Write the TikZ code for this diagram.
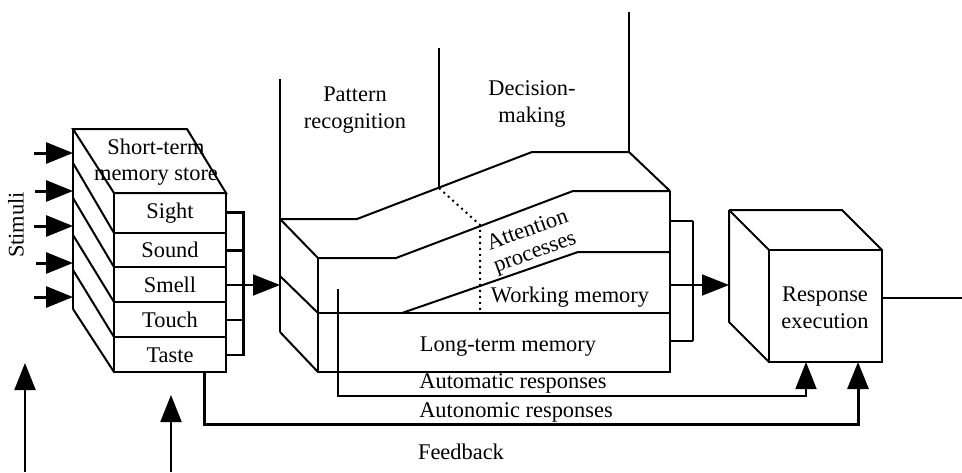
\documentclass[tikz,border=0pt]{standalone}
\usepackage{fontspec}
\setmainfont{Liberation Serif}
\usepackage{tikz}
\usetikzlibrary{arrows.meta}

\tikzset{
    outline/.style={line width=1pt},
    thinline/.style={line width=0.8pt},
    heavyline/.style={line width=1.5pt},
    bigarrow/.style={-{Triangle[length=13.5pt,width=10.5pt]}},
    lbl/.style={font=\fontsize{11.2}{13.3}\selectfont, align=center, inner sep=0pt}
}

\begin{document}
\begin{tikzpicture}[x=0.5pt,y=-0.5pt]
    \useasboundingbox (0,0) rectangle (962,472);

    % Stimuli
    \node[lbl, rotate=90] (stimuli) at (16,225) {Stimuli};
    \foreach \y/\t in {153/34,191/35,226/34,263/36,297/34} {
        \coordinate (stin) at (\t,\y);
        \coordinate (stend) at (73,\y);
        \draw[heavyline, bigarrow] (stin) -- (stend);
    }

    % Short-term memory store
    \draw[outline] (73,129) -- (187,129) -- (226,193) -- (114,193) -- cycle;
    \draw[outline] (114,193) rectangle (226,372);
    \foreach \y in {233,267,302,337}
        \draw[outline] (114,\y) -- (226,\y);
    \draw[outline] (73,129) -- (73,309);
    \foreach \b/\f in {163/233,198/267,235/302,270/337,309/372}
        \draw[outline] (73,\b) -- (114,\f);
    \node[lbl] (stm) at (156,162) {Short-term\\memory store};
    \node[lbl] (sight) at (170,213) {Sight};
    \node[lbl] (sound) at (170,250) {Sound};
    \node[lbl] (smell) at (170,285) {Smell};
    \node[lbl] (touch) at (170,320) {Touch};
    \node[lbl] (taste) at (170,355) {Taste};

    % Senses joined
    \foreach \y in {285,320,355}
        \draw[thinline] (226,\y) -- (243,\y);
    \draw[heavyline] (226,212) -- (243,212);
    \draw[heavyline] (226,250) -- (243,250);
    \draw[heavyline] (243,211) -- (243,356);
    \coordinate (stmout) at (226,285);
    \coordinate (cogin) at (280,285);
    \draw[thinline, bigarrow] (stmout) -- (cogin);

    % Pattern recognition and decision-making
    \draw[outline] (280,79) -- (280,332);
    \draw[outline] (439,48) -- (439,188);
    \draw[outline] (629,12) -- (629,152);
    \draw[outline] (280,219) -- (357,219) -- (532,152) -- (629,152) -- (670,191);
    \draw[outline, dotted] (439,188) -- (480,225) -- (480,313);
    \node[lbl] (pattern) at (355,110) {Pattern\\recognition};
    \node[lbl] (decision) at (532,104) {Decision-\\making};

    % Attention, working memory, long-term memory
    \draw[outline] (280,219) -- (318,258) -- (396,258) -- (573,191) -- (670,191);
    \draw[outline] (318,258) -- (318,372) -- (670,372) -- (670,191);
    \draw[outline] (318,313) -- (670,313);
    \draw[outline] (402,313) -- (578,252) -- (670,252);
    \draw[outline] (280,276) -- (318,313);
    \draw[outline] (280,332) -- (318,372);
    \node[lbl, rotate=20] (attention) at (527,229) {Attention};
    \node[lbl, rotate=20] (processes) at (536,255) {processes};
    \node[lbl] (working) at (570,297) {Working memory};
    \node[lbl] (longterm) at (508,347) {Long-term memory};

    % Joined outputs
    \foreach \y in {221,341}
        \draw[thinline] (670,\y) -- (693,\y);
    \draw[thinline] (693,221) -- (693,341);
    \coordinate (cogout) at (670,285);
    \coordinate (respin) at (729,285);
    \draw[thinline, bigarrow] (cogout) -- (respin);

    % Response execution
    \draw[outline] (729,210) -- (842,210) -- (882,250);
    \draw[outline] (769,250) rectangle (882,362);
    \draw[outline] (729,210) -- (769,250);
    \draw[outline] (729,210) -- (729,322) -- (769,362);
    \node[lbl] (response) at (825,308) {Response\\execution};
    \coordinate (respout) at (882,298);
    \coordinate (exit) at (962,298);
    \draw[outline] (respout) -- (exit);

    % Automatic and autonomic responses
    \coordinate (autostart) at (338,289);
    \coordinate (autoend) at (806,362);
    \draw[thinline, bigarrow] (autostart) |- (338,396) -| (autoend);
    \node[lbl] (automatic) at (513,383) {Automatic responses};
    \coordinate (tastebot) at (204,372);
    \coordinate (autonend) at (858,362);
    \draw[heavyline, bigarrow] (tastebot) |- (858,424) -- (autonend);
    \node[lbl] (autonomic) at (516,412) {Autonomic responses};

    % Feedback
    \coordinate (fbone) at (25,472);
    \coordinate (fbonetip) at (25,363);
    \coordinate (fbtwo) at (171,472);
    \coordinate (fbtwotip) at (171,395);
    \draw[outline, bigarrow] (fbone) -- (fbonetip);
    \draw[outline, bigarrow] (fbtwo) -- (fbtwotip);
    \node[lbl] (feedback) at (461,452) {Feedback};
\end{tikzpicture}
\end{document}
